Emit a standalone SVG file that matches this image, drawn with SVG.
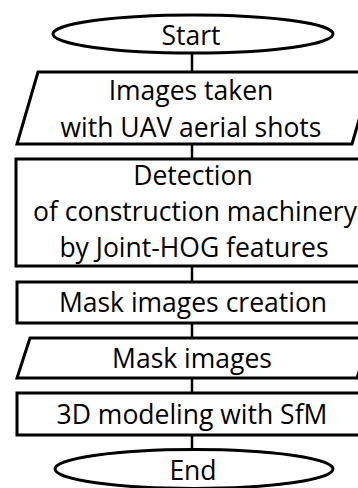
<svg xmlns="http://www.w3.org/2000/svg" width="358" height="488" viewBox="0 0 358 488">
  <style>
    .shape { fill: #ffffff; stroke: #000000; stroke-width: 3; }
    .link { stroke: #000000; stroke-width: 2.5; fill: none; }
    .label { font-family: "Open Sans", "Noto Sans", "Liberation Sans", sans-serif; font-size: 26.5px; fill: #000000; text-anchor: middle; }
  </style>
  <rect x="0" y="0" width="358" height="488" fill="#ffffff"/>

  <g id="connectors">
    <line class="link" x1="192" y1="53" x2="192" y2="71"/>
    <line class="link" x1="192" y1="144" x2="192" y2="159"/>
    <line class="link" x1="192" y1="266" x2="192" y2="282"/>
    <line class="link" x1="192" y1="323" x2="192" y2="338"/>
    <line class="link" x1="192" y1="378" x2="192" y2="393"/>
    <line class="link" x1="192" y1="435" x2="192" y2="450"/>
  </g>

  <g id="start">
    <ellipse class="shape" cx="193" cy="34" rx="140" ry="19"/>
    <text class="label" x="191" y="45">Start</text>
  </g>

  <g id="input-images">
    <polygon class="shape" points="38,72 373,72 352,144 17,144"/>
    <text class="label" x="191" y="100">Images taken</text>
    <text class="label" x="191" y="137">with UAV aerial shots</text>
  </g>

  <g id="detection">
    <rect class="shape" x="16" y="159" width="354" height="107"/>
    <text class="label" x="193" y="185">Detection</text>
    <text class="label" x="195" y="221">of construction machinery</text>
    <text class="label" x="194" y="257">by Joint-HOG features</text>
  </g>

  <g id="mask-creation">
    <rect class="shape" x="17" y="282" width="353" height="41"/>
    <text class="label" x="193" y="312">Mask images creation</text>
  </g>

  <g id="mask-images">
    <polygon class="shape" points="30,338 370,338 357,378 17,378"/>
    <text class="label" x="192" y="368">Mask images</text>
  </g>

  <g id="modeling">
    <rect class="shape" x="17" y="393" width="353" height="42"/>
    <text class="label" x="192" y="424">3D modeling with SfM</text>
  </g>

  <g id="end">
    <ellipse class="shape" cx="194" cy="469" rx="139" ry="19.5"/>
    <text class="label" x="193" y="480">End</text>
  </g>
</svg>
